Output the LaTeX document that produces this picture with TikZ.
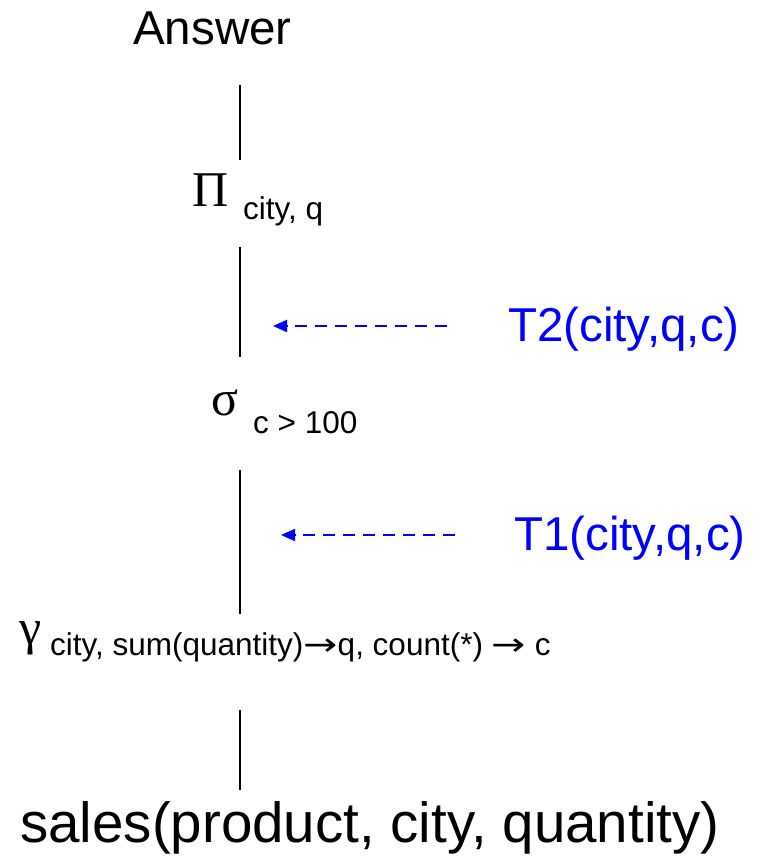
\documentclass[tikz,border=0pt]{standalone}
\usepackage{fontspec}
\setmainfont{Liberation Sans}
\newfontfamily\grk{Liberation Serif}
\newfontfamily\arrfont{DejaVu Sans}
\usetikzlibrary{arrows.meta}
\definecolor{tblue}{RGB}{0,0,255}
\newcommand{\rarr}{\scalebox{1.3}[1]{\arrfont →}}
\begin{document}
\begin{tikzpicture}[x=1pt,y=-1pt,
  txt/.style={inner sep=0pt,anchor=base west},
  big/.style={font=\fontsize{47.5}{50}\selectfont},
  huge/.style={font=\fontsize{56.5}{60}\selectfont},
  small/.style={font=\fontsize{31.5}{34}\selectfont},
  greek/.style={font=\grk\fontsize{50}{54}\selectfont},
  conn/.style={line width=1.5pt,draw=black},
  ptr/.style={line width=2pt,draw=tblue,dash pattern=on 12pt off 8pt,-{Triangle[length=14pt,width=12pt]},color=tblue}]
\useasboundingbox (0,0) rectangle (759,858);
% texts
\node[txt,big] (answer) at (133,45) {Answer};
\node[txt,greek] (pi) at (192,207) {Π};
\node[txt,small] (pisub) at (243,220) {city, q};
\node[txt,greek] (sigma) at (211,415) {σ};
\node[txt,small] (sigsub) at (253,433) {c > 100};
\node[txt,greek] (gamma) at (19,644) {γ};
\node[txt,small] (gamsub) at (50,655) {city, sum(quantity)\rarr q, count(*) \rarr{} c};
\node[txt,huge] (sales) at (20,842) {sales(product, city, quantity)};
\node[txt,big,text=tblue] (t2) at (508,341) {T2(city,q,c)};
\node[txt,big,text=tblue] (t1) at (514,550) {T1(city,q,c)};
% line end points
\coordinate (l1a) at (240,85);  \coordinate (l1b) at (240,160);
\coordinate (l2a) at (240,247); \coordinate (l2b) at (240,357);
\coordinate (l3a) at (240,470); \coordinate (l3b) at (240,614);
\coordinate (l4a) at (240,710); \coordinate (l4b) at (240,790);
\coordinate (a2s) at (447,326); \coordinate (a2e) at (273,326);
\coordinate (a1s) at (455,535); \coordinate (a1e) at (281,535);
\draw[conn] (l1a) -- (l1b);
\draw[conn] (l2a) -- (l2b);
\draw[conn] (l3a) -- (l3b);
\draw[conn] (l4a) -- (l4b);
\draw[ptr] (a2s) -- (a2e);
\draw[ptr] (a1s) -- (a1e);
\end{tikzpicture}
\end{document}
